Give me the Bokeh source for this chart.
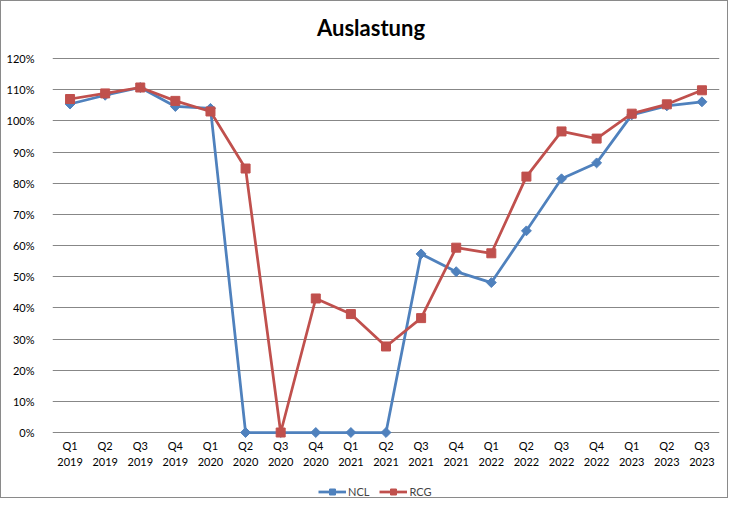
from bokeh.plotting import figure
from bokeh.models import FactorRange, Range1d, Legend, LegendItem, NumeralTickFormatter, FixedTicker, Label
from bokeh.core.properties import value
from bokeh.embed import file_html
from bokeh.resources import INLINE
import math

title = "Auslastung"
quarters = ["Q1", "Q2", "Q3", "Q4", "Q1", "Q2", "Q3", "Q4", "Q1", "Q2",
            "Q3", "Q4", "Q1", "Q2", "Q3", "Q4", "Q1", "Q2", "Q3"]
years = ["2019", "2019", "2019", "2019", "2020", "2020", "2020", "2020", "2021", "2021",
         "2021", "2021", "2022", "2022", "2022", "2022", "2023", "2023", "2023"]
ncl = [1.054, 1.082, 1.107, 1.046, 1.040, 0.0, 0.0, 0.0, 0.0, 0.0,
       0.573, 0.516, 0.481, 0.647, 0.814, 0.865, 1.019, 1.048, 1.061]
rcg = [1.070, 1.088, 1.107, 1.064, 1.030, 0.847, 0.0, 0.430, 0.380, 0.276,
       0.367, 0.593, 0.575, 0.821, 0.966, 0.943, 1.023, 1.053, 1.098]
y_ticks = [0.0, 0.1, 0.2, 0.3, 0.4, 0.5, 0.6, 0.7, 0.8, 0.9, 1.0, 1.1, 1.2]

factors = [q + " " + y for q, y in zip(quarters, years)]
labels = [q + "\n" + y for q, y in zip(quarters, years)]

FONT = "Lato"
GRID = "#878787"
BLUE = "#4F81BD"
RED = "#C0504D"

# frame spans 1..497 px; 0 % sits at 431 px, 120 % at 57 px
px_per_unit = (431 - 57) / 1.2
y_bottom = -(497 - 431) / px_per_unit
y_top = 1.2 + (57 - 1) / px_per_unit

p = figure(width=728, height=498, output_backend="svg", toolbar_location=None,
           x_range=FactorRange(*factors, range_padding=0), y_range=Range1d(y_bottom, y_top),
           min_border_left=51, min_border_right=10, min_border_top=1, min_border_bottom=1)
p.outline_line_color = None
p.styles = {"border": "1px solid #8a8a8a"}

p.add_layout(Label(x=len(factors) / 2, y=1.2, x_offset=-15, y_offset=31, text=title,
                   text_align="center", text_baseline="alphabetic",
                   text_font=FONT, text_font_size="22px", text_font_style="bold",
                   text_color="#000000"))

p.xaxis.visible = False
p.xgrid.grid_line_color = None
p.ygrid.grid_line_color = GRID
p.ygrid.grid_line_width = 1
p.yaxis.ticker = FixedTicker(ticks=y_ticks)
p.yaxis.formatter = NumeralTickFormatter(format="0%")
p.yaxis.axis_line_color = None
p.yaxis.major_tick_line_color = None
p.yaxis.minor_tick_line_color = None
p.yaxis.major_label_standoff = 12
p.yaxis.major_label_text_font = FONT
p.yaxis.major_label_text_font_size = "11px"
p.yaxis.major_label_text_color = "#000000"

# category labels under the 0 % line
p.text(x=factors, y=[0.0] * len(factors), text=labels, y_offset=6,
       text_align="center", text_baseline="top", text_font=value(FONT),
       text_font_size="11px", text_color="#000000", text_line_height=1.3)

l1 = p.line(factors, ncl, line_color=BLUE, line_width=2.75)
m1 = p.scatter(factors, ncl, marker="square", angle=math.pi / 4, size=7,
               fill_color=BLUE, line_color=BLUE)
l2 = p.line(factors, rcg, line_color=RED, line_width=2.75)
m2 = p.scatter(factors, rcg, marker="square", size=9, fill_color=RED, line_color=RED)

legend = Legend(items=[LegendItem(label="NCL", renderers=[l1, m1]),
                       LegendItem(label="RCG", renderers=[l2, m2])],
                orientation="horizontal", location=(266, -1),
                background_fill_alpha=0, border_line_color=None,
                label_text_font=FONT, label_text_font_size="11px",
                glyph_width=28, glyph_height=15, label_height=15,
                label_standoff=2, spacing=10, padding=0, margin=0)
p.add_layout(legend, "center")

open("out.html", "w").write(file_html(p, INLINE))
